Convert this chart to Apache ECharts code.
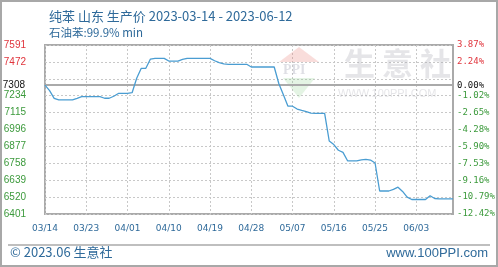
<!DOCTYPE html>
<html><head><meta charset="utf-8">
<script src="https://cdn.jsdelivr.net/npm/echarts@6/dist/echarts.min.js"></script>
<style>html,body{margin:0;padding:0;background:#fff}#c{width:498px;height:267px}</style>
</head><body><div id="c"></div>
<script>
var dates = ['03/14','03/15','03/16','03/17','03/18','03/19','03/20','03/21','03/22','03/23','03/24','03/25','03/26','03/27','03/28','03/29','03/30','03/31',
'04/01','04/02','04/03','04/04','04/05','04/06','04/07','04/08','04/09','04/10','04/11','04/12','04/13','04/14','04/15','04/16','04/17','04/18','04/19','04/20','04/21','04/22','04/23','04/24','04/25','04/26','04/27','04/28','04/29','04/30',
'05/01','05/02','05/03','05/04','05/05','05/06','05/07','05/08','05/09','05/10','05/11','05/12','05/13','05/14','05/15','05/16','05/17','05/18','05/19','05/20','05/21','05/22','05/23','05/24','05/25','05/26','05/27','05/28','05/29','05/30','05/31',
'06/01','06/02','06/03','06/04','06/05','06/06','06/07','06/08','06/09','06/10','06/11'];
var prices = [
7308,7270,7215,7204,7204,7204,7204,7215,7227,7227,
7227,7227,7227,7216,7216,7230,7250,7251,7251,7255,
7357,7427,7427,7492,7497,7497,7497,7478,7478,7478,
7490,7497,7497,7497,7497,7497,7497,7480,7467,7458,
7455,7455,7455,7455,7455,7436,7436,7436,7436,7436,
7436,7320,7240,7160,7160,7140,7130,7121,7112,7110,
7110,7110,6915,6890,6850,6835,6776,6775,6775,6782,
6786,6781,6760,6563,6563,6563,6575,6590,6560,6520,
6503,6503,6503,6503,6530,6510,6507,6507,6507,6507];
var axisMin = 6401, axisStep = 119, refPrice = 7308;
var leftLabels = ['6401','6520','6639','6758','6877','6996','7115','7234','','7472','7591'];
var rightLabels = ['-12.42%','-10.79%','-9.16%','-7.53%','-5.90%','-4.28%','-2.65%','-1.02%','','2.24%','3.87%'];
var RED = '#e0343c', GREEN = '#3c9a3c', BLUE = '#2f6a9a';

var chart = echarts.init(document.getElementById('c'), null, {renderer:'canvas'});
var plotData = prices.map(function(v){ return v - axisMin; });
function idx(v){ return Math.round(v / axisStep); }
function lblColor(v){ var i = idx(v); return i >= 9 ? RED : GREEN; }
chart.setOption({
  animation: false,
  backgroundColor: '#fff',
  title: [
    {text: '纯苯 山东 生产价 2023-03-14 - 2023-06-12', left: 44, top: 5,
     textStyle: {color: BLUE, fontSize: 13, fontWeight: 'normal', fontFamily: 'Noto Sans CJK SC'}},
    {text: '石油苯:99.9% min', left: 44, top: 22,
     textStyle: {color: BLUE, fontSize: 11.5, fontWeight: 'normal', fontFamily: 'Noto Sans CJK SC'}}
  ],
  grid: {left: 45, right: 45, top: 45, bottom: 53, show: true, borderColor: '#aaa', borderWidth: 2, backgroundColor: 'transparent'},
  xAxis: {
    type: 'category', data: dates, boundaryGap: false,
    axisLine: {show: false}, axisTick: {show: false},
    axisLabel: {interval: 8, margin: 10, color: BLUE, fontSize: 9, fontFamily: 'DejaVu Sans'},
    splitLine: {show: true, interval: 8, lineStyle: {color: '#c8c8c8', type: [2,2], width: 1}}
  },
  yAxis: [
    {type: 'value', min: 0, max: 1190, interval: axisStep, position: 'left',
     axisLine: {show: false}, axisTick: {show: false},
     splitLine: {show: true, lineStyle: {color: '#c8c8c8', type: [2,2], width: 1}},
     axisLabel: {margin: 19, fontSize: 10, fontFamily: 'Liberation Sans',
       formatter: function(v){ return leftLabels[idx(v)]; }, color: lblColor}},
    {type: 'value', min: 0, max: 1190, interval: axisStep, position: 'right',
     axisLine: {show: false}, axisTick: {show: false}, splitLine: {show: false},
     axisLabel: {margin: 4, fontSize: 9, fontFamily: 'DejaVu Sans Mono',
       formatter: function(v){ return rightLabels[idx(v)]; }, color: lblColor}}
  ],
  series: [{
    type: 'line', data: plotData, symbol: 'none', smooth: false,
    lineStyle: {color: '#4a9dd2', width: 1.3},
    z: 5,
    markLine: {
      silent: true, symbol: 'none', animation: false,
      lineStyle: {color: '#aaa', width: 2, type: 'solid'},
      data: [
        {yAxis: refPrice - axisMin, label: {position: 'start', distance: 20, formatter: String(refPrice), color: '#111', fontSize: 10, fontFamily: 'Liberation Sans'}},
        {yAxis: refPrice - axisMin, label: {position: 'end', distance: 4, formatter: '0.00%', color: '#111', fontSize: 9, fontFamily: 'DejaVu Sans Mono'}}
      ]
    }
  }],
  graphic: [
    {type: 'rect', shape: {x: 1, y: 1, width: 496, height: 265}, style: {fill: 'none', stroke: '#a8a8a8', lineWidth: 2}, z: 100},
    {type: 'line', shape: {x1: 8, y1: 245, x2: 490, y2: 245}, style: {stroke: '#aaa', lineWidth: 1.5}},
    {type: 'text', left: 10, top: 246, style: {text: '© 2023.06 生意社', fill: BLUE, fontSize: 13, fontFamily: 'Noto Sans CJK SC'}},
    {type: 'text', right: 10, top: 247, style: {text: 'www.100PPI.com', fill: BLUE, fontSize: 13, fontFamily: 'Liberation Sans'}},
    {type: 'polygon', shape: {points: [[279,62],[299,47],[319,62]]}, style: {fill: 'rgba(230,120,110,0.25)'}, z: 1},
    {type: 'text', x: 283, y: 63, style: {text: 'PPI', fill: 'rgba(150,150,170,0.3)', fontSize: 14, fontWeight: 'bold', fontFamily: 'Liberation Serif'}, z: 1},
    {type: 'polygon', shape: {points: [[283,78],[315,78],[299,98]]}, style: {fill: 'rgba(120,200,120,0.2)'}, z: 1},
    {type: 'text', x: 344, y: 48, style: {text: '生 意 社', fill: 'rgba(170,170,180,0.3)', fontSize: 31, fontWeight: 'bold', fontFamily: 'Noto Sans CJK SC'}, z: 1},
    {type: 'text', x: 338, y: 88, style: {text: 'WWW.100PPI.COM', fill: 'rgba(170,170,180,0.3)', fontSize: 11, fontFamily: 'Liberation Sans'}, z: 1}
  ]
});
</script></body></html>
